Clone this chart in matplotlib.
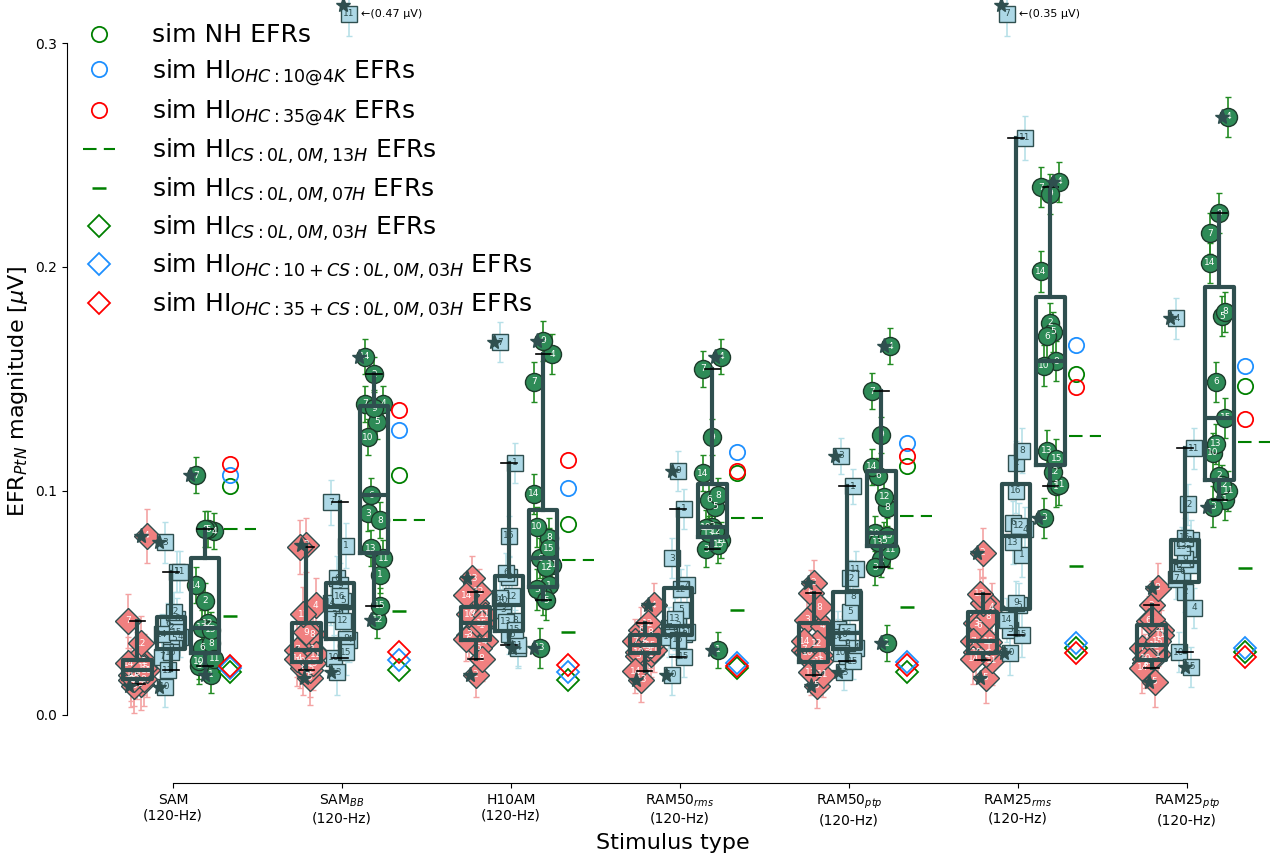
import numpy as np
import matplotlib.pyplot as plt
from matplotlib.lines import Line2D

# stimulus conditions (x axis)
stimuli = ['SAM\n(120-Hz)', 'SAM$_{BB}$\n(120-Hz)', 'H10AM\n(120-Hz)',
           'RAM50$_{rms}$\n(120-Hz)', 'RAM50$_{ptp}$\n(120-Hz)',
           'RAM25$_{rms}$\n(120-Hz)', 'RAM25$_{ptp}$\n(120-Hz)']

# measured EFRs [uV] per stimulus, one value per subject (ids 1..15)
pink_vals = [
    [.024, .025, .0156, .080, .014, .013, .042, .016, .019, .018, .020, .032, .016, .023, .021],
    [.029, .076, .075, .049, .0165, .021, .029, .036, .037, .024, .027, .020, .045, .025, .023],
    [.040, .018, .0357, .033, .030, .046, .034, .025, .050, .045, .0447, .055, .061, .0535, .041],
    [.027, .034, .0265, .049, .030, .038, .033, .037, .031, .028, .029, .041, .0156, .0196, .031],
    [.0268, .059, .0424, .0397, .013, .0545, .029, .048, .023, .028, .018, .032, .019, .033, .024],
    [.030, .0725, .041, .048, .0165, .040, .033, .044, .050, .028, .0245, .027, .054, .025, .0326],
    [.027, .049, .023, .038, .0147, .042, .030, .0567, .043, .025, .0357, .031, .024, .021, .033],
]
# ids 1..16
blue_vals = [
    [.064, .039, .077, .035, .034, .041, .026, .043, .030, .0125, .064, .046, .020, .036, .037, .028],
    [.0755, .046, .045, .0335, .051, .061, .095, .034, .058, .0255, .47, .042, .019, .050, .028, .053],
    [.1125, .0617, .047, .030, .0357, .0635, .1665, .042, .036, .051, .031, .053, .0415, .052, .038, .080],
    [.092, .040, .070, .058, .047, .038, .039, .036, .109, .018, .037, .056, .043, .035, .026, .0335],
    [.102, .025, .1157, .030, .046, .036, .0384, .0527, .032, .0277, .065, .061, .019, .035, .024, .037],
    [.0714, .1125, .038, .083, .049, .0857, .35, .118, .050, .0277, .2576, .0844, .0772, .0424, .0357, .100],
    [.078, .055, .066, .0478, .074, .064, .0607, .067, .0696, .028, .119, .094, .075, .177, .0214, .079],
]
# ids 1..15
green_vals = [
    [.018, .051, .022, .082, .083, .030, .107, .032, .083, .024, .025, .041, .039, .058, .038],
    [.0625, .152, .090, .139, .131, .098, .139, .087, .137, .124, .070, .0425, .0745, .160, .0487],
    [.058, .0535, .056, .161, .0513, .070, .1487, .079, .167, .084, .067, .066, .030, .0987, .0745],
    [.029, .084, .074, .160, .093, .096, .1545, .098, .124, .0835, .078, .082, .081, .108, .076],
    [.032, .0696, .066, .1647, .078, .1067, .1446, .0924, .125, .081, .0737, .0973, .077, .1107, .080],
    [.102, .175, .088, .238, .171, .169, .2357, .158, .2326, .156, .1027, .1085, .118, .198, .1143],
    [.096, .1067, .093, .267, .178, .1487, .215, .180, .224, .117, .100, .1027, .121, .2018, .1326],
]
# typical error bar size per stimulus
pink_err = [.012, .012, .010, .010, .010, .011, .011]
blue_err = [.009, .010, .009, .009, .008, .010, .009]
green_err = [.008, .008, .009, .008, .008, .009, .009]

# simulated EFRs
sim_nh = [.102, .107, .0853, .108, .111, .152, .147]
sim_ohc10 = [.107, .127, .1015, .1175, .1215, .165, .156]
sim_ohc35 = [.112, .136, .114, .109, .1157, .1465, .132]
sim_cs13 = [.083, .087, .069, .088, .089, .1245, .122]
sim_cs07 = [.044, .0465, .037, .047, .048, .0665, .0656]
sim_cs03 = [.019, .020, .0156, .021, .0193, .030, .028]
sim_ohc10cs = [.021, .0245, .019, .023, .0237, .032, .030]
sim_ohc35cs = [.022, .028, .0223, .022, .0225, .0277, .026]

ytop = 0.313
dark = '#2f4f4f'

fig = plt.figure(figsize=(12.78, 8.65), dpi=100)
ax = fig.add_axes([67 / 1278, 82 / 865, 1 - 67 / 1278, 1 - 82 / 865])


def draw_pop(x0, vals, err, marker, ms, face, ecol, tcol, edge):
    vals = np.asarray(vals)
    ids = np.arange(1, len(vals) + 1)
    shown = np.minimum(vals, ytop)
    xs = x0 + ((ids * 5) % 7 - 3) * 0.018
    ax.errorbar(xs, shown, yerr=err, fmt='none', ecolor=ecol, elinewidth=1.2,
                capsize=2.5, zorder=2)
    ax.plot(xs, shown, ls='none', marker=marker, ms=ms, mfc=face, mec=edge,
            mew=1, zorder=3)
    for x, y, i, v in zip(xs, shown, ids, vals):
        ax.text(x, y, str(i), ha='center', va='center', fontsize=6.5,
                color=tcol, zorder=4)
        if v > ytop:
            ax.text(x + 0.07, y, '\u2190(%.2f \u03bcV)' % v, ha='left',
                    va='center', fontsize=8, zorder=4)
    bp = ax.boxplot(shown, positions=[x0], widths=0.17, whis=(5, 95),
                    manage_ticks=False, zorder=5, showfliers=False,
                    boxprops=dict(color=dark, lw=3),
                    whiskerprops=dict(color=dark, lw=3),
                    medianprops=dict(color=dark, lw=3),
                    capprops=dict(color='black', lw=1.2), capwidths=0.09)
    lo = bp['whiskers'][0].get_ydata()[1]
    hi = bp['whiskers'][1].get_ydata()[1]
    out = (shown < lo) | (shown > hi)
    ax.plot(xs[out] - 0.035, shown[out] + np.where(shown[out] >= ytop, 0.004, 0),
            ls='none', marker='*', ms=11, mfc=dark, mec=dark, zorder=6)


for g in range(len(stimuli)):
    draw_pop(g - 0.21, pink_vals[g], pink_err[g], 'D', 13, '#f08080', '#f4a3a3',
             'white', dark)
    draw_pop(g - 0.012, blue_vals[g], blue_err[g], 's', 12, '#add8e6', '#b7e0e8',
             '#2f4f4f', dark)
    draw_pop(g + 0.19, green_vals[g], green_err[g], 'o', 13, '#2e8b57', '#228b22',
             'white', '#1c3a2a')

    xs = g + 0.34
    ax.plot(xs, sim_nh[g], 'o', ms=11, mfc='none', mec='green', mew=1.3, zorder=6)
    ax.plot(xs, sim_ohc10[g], 'o', ms=11, mfc='none', mec='dodgerblue', mew=1.3, zorder=6)
    ax.plot(xs, sim_ohc35[g], 'o', ms=11, mfc='none', mec='red', mew=1.3, zorder=6)
    ax.plot([xs - 0.04, xs + 0.15], [sim_cs13[g]] * 2, color='green', lw=1.5,
            ls=(0, (6.5, 3.5)), zorder=6)
    ax.plot(xs, sim_cs07[g], '_', ms=9.5, mec='green', mew=1.8, zorder=6)
    ax.plot(xs, sim_cs03[g], 'D', ms=11, mfc='none', mec='green', mew=1.3, zorder=6)
    ax.plot(xs, sim_ohc10cs[g], 'D', ms=11, mfc='none', mec='dodgerblue', mew=1.3, zorder=6)
    ax.plot(xs, sim_ohc35cs[g], 'D', ms=11, mfc='none', mec='red', mew=1.3, zorder=6)

ax.set_xlim(-0.627, 6.538)
ax.set_ylim(-0.0304, 0.3192)
ax.set_yticks([0.0, 0.1, 0.2, 0.3])
ax.set_xticks(range(len(stimuli)))
ax.set_xticklabels(stimuli, fontsize=10)
ax.tick_params(axis='y', labelsize=10)
for s in ['top', 'right']:
    ax.spines[s].set_visible(False)
ax.spines['left'].set_bounds(0, 0.3)
ax.spines['bottom'].set_bounds(0, 6)
ax.set_ylabel(r'EFR$_{PtN}$ magnitude [$\mu$V]', fontsize=16)
ax.set_xlabel('Stimulus type', fontsize=16)

handles = [
    Line2D([], [], ls='none', marker='o', ms=11, mfc='none', mec='green', mew=1.3),
    Line2D([], [], ls='none', marker='o', ms=11, mfc='none', mec='dodgerblue', mew=1.3),
    Line2D([], [], ls='none', marker='o', ms=11, mfc='none', mec='red', mew=1.3),
    Line2D([], [], color='green', lw=1.5, ls=(0, (6.5, 3.5))),
    Line2D([], [], ls='none', marker='_', ms=9.5, mec='green', mew=1.8),
    Line2D([], [], ls='none', marker='D', ms=11, mfc='none', mec='green', mew=1.3),
    Line2D([], [], ls='none', marker='D', ms=11, mfc='none', mec='dodgerblue', mew=1.3),
    Line2D([], [], ls='none', marker='D', ms=11, mfc='none', mec='red', mew=1.3),
]
labels = ['sim NH EFRs', r'sim HI$_{OHC:10@4K}$ EFRs', r'sim HI$_{OHC:35@4K}$ EFRs',
          r'sim HI$_{CS:0L,0M,13H}$ EFRs', r'sim HI$_{CS:0L,0M,07H}$ EFRs',
          r'sim HI$_{CS:0L,0M,03H}$ EFRs', r'sim HI$_{OHC:10+CS:0L,0M,03H}$ EFRs',
          r'sim HI$_{OHC:35+CS:0L,0M,03H}$ EFRs']
fig.legend(handles, labels, loc='upper left', bbox_to_anchor=(70 / 1278, 1 - 11 / 865),
           frameon=False, fontsize=18, handlelength=1.3, handletextpad=1.5,
           labelspacing=0.37, borderpad=0)

fig.savefig('out.png', dpi=100)
